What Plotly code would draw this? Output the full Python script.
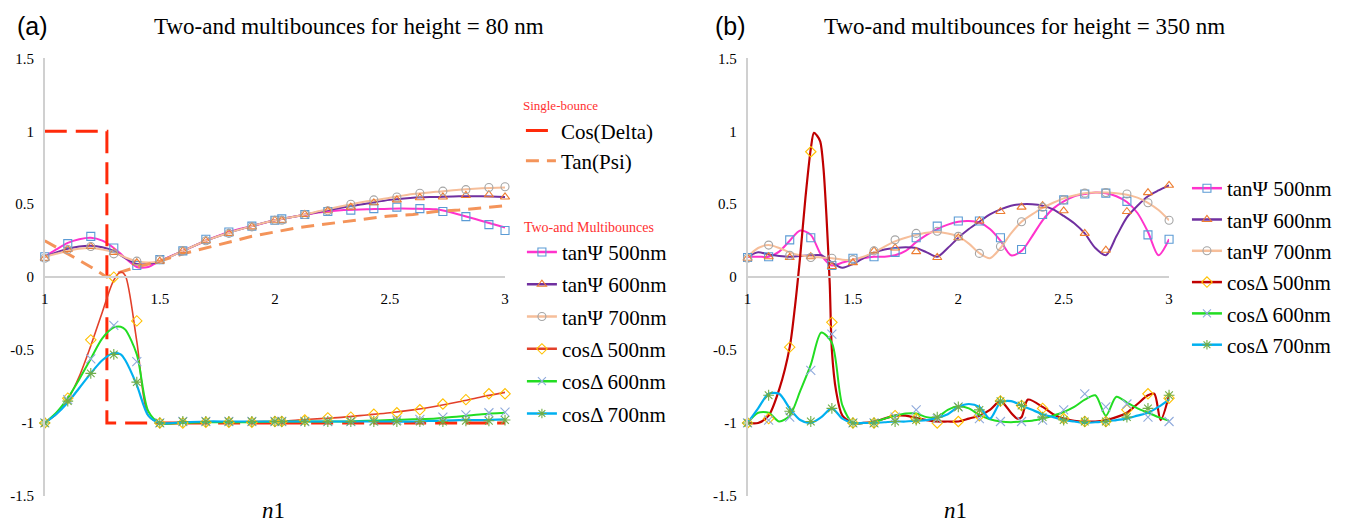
import plotly.graph_objects as go

# ---------------- panel (a): height = 80 nm ----------------
XA_MARK = [1.0, 1.1, 1.2, 1.3, 1.4, 1.5, 1.6, 1.7, 1.8, 1.9, 2.0, 2.03, 2.13, 2.23,
           2.33, 2.43, 2.53, 2.63, 2.73, 2.83, 2.93, 3.0]
TAN500_A_MARK = [0.14, 0.23, 0.28, 0.20, 0.08, 0.12, 0.18, 0.26, 0.31, 0.35, 0.39, 0.40,
                 0.43, 0.45, 0.46, 0.47, 0.48, 0.47, 0.45, 0.415, 0.36, 0.32]
TAN600_A_MARK = [0.13, 0.19, 0.21, 0.17, 0.10, 0.11, 0.18, 0.25, 0.30, 0.345, 0.39, 0.39,
                 0.43, 0.455, 0.48, 0.51, 0.53, 0.545, 0.55, 0.56, 0.565, 0.55]
TAN700_A_MARK = [0.13, 0.19, 0.21, 0.16, 0.11, 0.12, 0.18, 0.25, 0.30, 0.345, 0.39, 0.39,
                 0.43, 0.455, 0.50, 0.53, 0.55, 0.575, 0.59, 0.60, 0.615, 0.62]
COS500_A_MARK = [-1.0, -0.83, -0.43, 0.0, -0.30, -1.0, -1.0, -0.995, -0.995, -0.995, -0.99,
                 -0.99, -0.98, -0.965, -0.96, -0.94, -0.93, -0.91, -0.87, -0.84, -0.80, -0.80]
COS600_A_MARK = [-1.0, -0.84, -0.56, -0.33, -0.58, -1.0, -0.99, -0.99, -0.99, -0.99, -0.99,
                 -0.99, -0.99, -0.99, -0.99, -0.985, -0.98, -0.975, -0.96, -0.945, -0.93, -0.925]
COS700_A_MARK = [-1.0, -0.85, -0.66, -0.53, -0.72, -1.0, -0.99, -0.99, -0.99, -0.99, -0.99,
                 -0.99, -0.99, -0.99, -0.99, -0.99, -0.99, -0.99, -0.99, -0.985, -0.985, -0.98]

XA_LINE = [1.0, 1.05, 1.1, 1.15, 1.2, 1.25, 1.3, 1.33, 1.35, 1.4, 1.45, 1.5, 1.6, 1.7, 1.8,
           1.9, 2.0, 2.1, 2.2, 2.3, 2.4, 2.5, 2.6, 2.7, 2.8, 2.9, 3.0]
TAN500_A_LINE = [0.14, 0.19, 0.235, 0.26, 0.27, 0.25, 0.20, 0.16, 0.13, 0.07, 0.07, 0.11, 0.18,
                 0.25, 0.31, 0.35, 0.39, 0.42, 0.445, 0.46, 0.465, 0.47, 0.47, 0.465, 0.43,
                 0.385, 0.34]
TAN600_A_LINE = [0.14, 0.17, 0.195, 0.21, 0.215, 0.205, 0.18, 0.15, 0.13, 0.09, 0.09, 0.11,
                 0.18, 0.25, 0.305, 0.35, 0.39, 0.42, 0.45, 0.48, 0.505, 0.53, 0.545, 0.55,
                 0.555, 0.555, 0.55]
TAN700_A_LINE = [0.14, 0.16, 0.18, 0.195, 0.20, 0.19, 0.17, 0.15, 0.135, 0.11, 0.10, 0.11,
                 0.18, 0.25, 0.305, 0.35, 0.39, 0.42, 0.455, 0.49, 0.52, 0.545, 0.57, 0.585,
                 0.60, 0.61, 0.615]
COS500_A_LINE = [-1.0, -0.94, -0.84, -0.68, -0.47, -0.24, -0.02, 0.035, 0.01, -0.44, -0.95,
                 -1.0, -1.0, -0.995, -0.995, -0.99, -0.99, -0.98, -0.97, -0.96, -0.945, -0.93,
                 -0.91, -0.885, -0.855, -0.82, -0.79]
COS600_A_LINE = [-1.0, -0.93, -0.83, -0.70, -0.56, -0.42, -0.345, -0.34, -0.36, -0.53, -0.92,
                 -1.0, -1.0, -0.995, -0.995, -0.995, -0.99, -0.99, -0.99, -0.99, -0.985, -0.98,
                 -0.975, -0.97, -0.955, -0.94, -0.93]
COS700_A_LINE = [-1.0, -0.94, -0.86, -0.76, -0.66, -0.57, -0.52, -0.53, -0.57, -0.74, -0.95,
                 -1.0, -0.995, -0.99, -0.99, -0.99, -0.99, -0.99, -0.99, -0.99, -0.99, -0.99,
                 -0.99, -0.985, -0.98, -0.98, -0.975]

# single-bounce reference curves
XA_COSD = [1.0, 1.27, 1.27, 3.0]
COSD_A = [1.0, 1.0, -1.0, -1.0]
XA_TANP = [1.0, 1.1, 1.2, 1.27, 1.3, 1.4, 1.5, 1.6, 1.7, 1.8, 1.9, 2.0, 2.1, 2.2, 2.3, 2.4,
           2.5, 2.6, 2.7, 2.8, 2.9, 3.0]
TANP_A = [0.25, 0.16, 0.07, 0.0, 0.02, 0.07, 0.11, 0.16, 0.20, 0.24, 0.28, 0.31, 0.34, 0.36,
          0.38, 0.40, 0.42, 0.43, 0.45, 0.46, 0.475, 0.49]

# ---------------- panel (b): height = 350 nm ----------------
XB_MARK = [1.0, 1.1, 1.2, 1.3, 1.4, 1.5, 1.6, 1.7, 1.8, 1.9, 2.0, 2.1, 2.2, 2.3, 2.4, 2.5,
           2.6, 2.7, 2.8, 2.9, 3.0]
TAN500_B_MARK = [0.135, 0.14, 0.256, 0.27, 0.08, 0.13, 0.14, 0.17, 0.27, 0.35, 0.385, 0.385,
                 0.27, 0.19, 0.43, 0.53, 0.57, 0.576, 0.52, 0.29, 0.26]
TAN600_B_MARK = [0.13, 0.14, 0.135, 0.14, 0.073, 0.10, 0.18, 0.20, 0.175, 0.135, 0.27, 0.385,
                 0.45, 0.48, 0.49, 0.455, 0.30, 0.185, 0.45, 0.58, 0.63]
TAN700_B_MARK = [0.13, 0.22, 0.15, 0.135, 0.13, 0.12, 0.18, 0.256, 0.30, 0.315, 0.28, 0.163,
                 0.21, 0.38, 0.48, 0.53, 0.576, 0.58, 0.57, 0.51, 0.39]
COS500_B_MARK = [-1.0, -0.97, -0.48, 0.86, -0.31, -1.0, -1.0, -0.95, -0.97, -1.0, -0.99, -0.95,
                 -0.85, -0.88, -0.90, -0.97, -0.99, -0.99, -0.91, -0.80, -0.83]
COS600_B_MARK = [-1.0, -0.98, -0.96, -0.64, -0.39, -1.0, -1.0, -0.96, -0.91, -0.97, -0.89,
                 -0.97, -0.99, -0.99, -0.98, -0.91, -0.80, -0.89, -0.87, -0.96, -0.99]
COS700_B_MARK = [-1.0, -0.81, -0.92, -0.99, -0.90, -1.0, -1.0, -0.99, -0.98, -0.96, -0.89,
                 -0.91, -0.85, -0.88, -0.96, -0.98, -0.99, -0.99, -0.96, -0.90, -0.81]

XB_LINE = [1.0, 1.05, 1.1, 1.15, 1.2, 1.25, 1.3, 1.35, 1.4, 1.45, 1.5, 1.55, 1.6, 1.65, 1.7,
           1.75, 1.8, 1.85, 1.9, 1.95, 2.0, 2.05, 2.1, 2.15, 2.2, 2.25, 2.3, 2.35, 2.4, 2.45,
           2.5, 2.55, 2.6, 2.65, 2.7, 2.75, 2.8, 2.85, 2.9, 2.95, 3.0]
TAN500_B_LINE = [0.14, 0.14, 0.14, 0.175, 0.25, 0.32, 0.29, 0.15, 0.08, 0.10, 0.12, 0.13,
                 0.14, 0.14, 0.15, 0.18, 0.24, 0.29, 0.33, 0.36, 0.38, 0.385, 0.375, 0.33,
                 0.25, 0.15, 0.18, 0.28, 0.39, 0.47, 0.52, 0.555, 0.57, 0.58, 0.575, 0.555,
                 0.515, 0.44, 0.31, 0.15, 0.26]
TAN600_B_LINE = [0.14, 0.17, 0.155, 0.145, 0.14, 0.145, 0.15, 0.15, 0.10, 0.065, 0.09, 0.13,
                 0.17, 0.19, 0.20, 0.205, 0.20, 0.17, 0.14, 0.20, 0.27, 0.33, 0.38, 0.43,
                 0.465, 0.49, 0.50, 0.50, 0.49, 0.465, 0.42, 0.37, 0.30, 0.20, 0.15, 0.28,
                 0.41, 0.49, 0.555, 0.595, 0.63]
TAN700_B_LINE = [0.14, 0.20, 0.22, 0.20, 0.17, 0.15, 0.14, 0.135, 0.13, 0.12, 0.12, 0.14,
                 0.17, 0.21, 0.245, 0.27, 0.29, 0.305, 0.31, 0.30, 0.28, 0.23, 0.165, 0.13,
                 0.20, 0.30, 0.38, 0.43, 0.475, 0.51, 0.54, 0.56, 0.575, 0.58, 0.58, 0.575,
                 0.565, 0.545, 0.51, 0.46, 0.39]
COS600_B_LINE = [-1.0, -0.93, -0.93, -0.99, -0.95, -0.78, -0.60, -0.38, -0.45, -0.88, -1.0,
                 -1.0, -0.995, -0.97, -0.95, -0.935, -0.935, -0.96, -0.96, -0.91, -0.885,
                 -0.90, -0.945, -0.975, -0.99, -0.995, -0.99, -0.985, -0.97, -0.95, -0.925,
                 -0.89, -0.84, -0.81, -0.95, -0.82, -0.86, -0.90, -0.93, -0.96, -0.985]
COS700_B_LINE = [-1.0, -0.90, -0.80, -0.80, -0.90, -0.98, -1.0, -0.96, -0.90, -0.97, -1.0,
                 -1.0, -1.0, -0.995, -0.99, -0.99, -0.985, -0.98, -0.965, -0.94, -0.89, -0.87,
                 -0.89, -0.97, -0.86, -0.85, -0.88, -0.91, -0.94, -0.96, -0.98, -0.99, -1.0,
                 -0.995, -0.99, -0.98, -0.97, -0.95, -0.93, -0.89, -0.84]
XB_RED = [1.0, 1.05, 1.1, 1.15, 1.2, 1.225, 1.25, 1.275, 1.3, 1.315, 1.33, 1.345, 1.36, 1.375,
          1.39, 1.4, 1.42, 1.45, 1.5, 1.55, 1.6, 1.65, 1.7, 1.75, 1.8, 1.85, 1.9, 1.95, 2.0,
          2.05, 2.1, 2.15, 2.2, 2.25, 2.28, 2.3, 2.33, 2.4, 2.45, 2.5, 2.55, 2.6, 2.65, 2.7,
          2.75, 2.8, 2.85, 2.9, 2.93, 2.96, 3.0]
COS500_B_LINE = [-1.0, -1.0, -0.95, -0.77, -0.48, -0.2, 0.15, 0.55, 0.88, 0.99, 0.97, 0.93,
                 0.75, 0.4, -0.05, -0.5, -0.78, -0.95, -1.0, -1.0, -0.99, -0.97, -0.95, -0.95,
                 -0.965, -0.98, -0.99, -0.99, -0.99, -0.97, -0.95, -0.91, -0.85, -0.93, -0.97,
                 -0.96, -0.84, -0.89, -0.94, -0.97, -0.985, -0.99, -0.99, -0.98, -0.96, -0.93,
                 -0.87, -0.81, -0.80, -0.98, -0.81]

# ---------------- styling ----------------
W, H = 1351, 532
SERIF = "Times New Roman, Liberation Serif, DejaVu Serif, serif"
SANS = "Arial, Liberation Sans, sans-serif"
PINK, PURPLE, PEACH = "#FF33CC", "#7030A0", "#F6BE9A"
RED_A, RED_B, GREEN, BLUE = "#E2402A", "#C00000", "#22DD22", "#00B0F0"
M_SQ, M_TRI, M_CIR = "#5B9BD5", "#ED7D31", "#A5A5A5"
M_DIA, M_X, M_AST = "#FFC000", "#8FAADC", "#70AD47"
SB_COS, SB_TAN = "#FF2A0A", "#F4945A"
AXIS_GRAY = "#D0D0D0"

Y_DOM = [1 - 503 / H, 1 - 52 / H]
XA_DOM = [41 / W, 504 / W]
XB_DOM = [748 / W, 1172 / W]
Y_MID = (Y_DOM[0] + Y_DOM[1]) / 2

fig = go.Figure()


def line(x, y, color, width, xa, ya, dash=None, shape="spline", name=None, legend=None):
    fig.add_trace(go.Scatter(
        x=x, y=y, mode="lines", xaxis=xa, yaxis=ya, name=name,
        showlegend=name is not None, legend=legend,
        line=dict(color=color, width=width, dash=dash, shape=shape,
                  smoothing=0.8 if shape == "spline" else None),
        hoverinfo="skip"))


def marks(x, y, symbol, color, xa, ya, size=8):
    fig.add_trace(go.Scatter(
        x=x, y=y, mode="markers", xaxis=xa, yaxis=ya, showlegend=False, cliponaxis=False,
        marker=dict(symbol=symbol, size=size, color=color, line=dict(color=color, width=1.1)),
        hoverinfo="skip"))


def legend_entry(name, lcolor, symbol, mcolor, legend, group):
    fig.add_trace(go.Scatter(
        x=[None], y=[None], mode="lines+markers", name=name, legend=legend,
        legendgroup=group, line=dict(color=lcolor, width=2.5),
        marker=dict(symbol=symbol, size=8, color=mcolor, line=dict(color=mcolor, width=1.1))))


# panel (a) curves
line(XA_LINE, TAN500_A_LINE, PINK, 2, "x", "y")
line(XA_LINE, TAN600_A_LINE, PURPLE, 2, "x", "y")
line(XA_LINE, TAN700_A_LINE, PEACH, 2, "x", "y")
line(XA_COSD, COSD_A, SB_COS, 3, "x", "y", dash="22px,9px", shape="linear",
     name="Cos(Delta)", legend="legend")
line(XA_TANP, TANP_A, SB_TAN, 3, "x", "y", dash="13px,8px", shape="linear",
     name="Tan(Psi)", legend="legend")
line(XA_LINE, COS500_A_LINE, RED_A, 1.6, "x", "y")
line(XA_LINE, COS600_A_LINE, GREEN, 2, "x", "y")
line(XA_LINE, COS700_A_LINE, BLUE, 2.2, "x", "y")
marks(XA_MARK, TAN500_A_MARK, "square-open", M_SQ, "x", "y")
marks(XA_MARK, TAN600_A_MARK, "triangle-up-open", M_TRI, "x", "y")
marks(XA_MARK, TAN700_A_MARK, "circle-open", M_CIR, "x", "y")
marks(XA_MARK, COS500_A_MARK, "diamond-open", M_DIA, "x", "y")
marks(XA_MARK, COS600_A_MARK, "x-thin-open", M_X, "x", "y", size=9)
marks(XA_MARK, COS700_A_MARK, "asterisk-open", M_AST, "x", "y", size=9)

# panel (b) curves
line(XB_LINE, TAN500_B_LINE, PINK, 2, "x2", "y2")
line(XB_LINE, TAN600_B_LINE, PURPLE, 2, "x2", "y2")
line(XB_LINE, TAN700_B_LINE, PEACH, 2, "x2", "y2")
line(XB_RED, COS500_B_LINE, RED_B, 2.2, "x2", "y2")
line(XB_LINE, COS600_B_LINE, GREEN, 2, "x2", "y2")
line(XB_LINE, COS700_B_LINE, BLUE, 2.2, "x2", "y2")
marks(XB_MARK, TAN500_B_MARK, "square-open", M_SQ, "x2", "y2")
marks(XB_MARK, TAN600_B_MARK, "triangle-up-open", M_TRI, "x2", "y2")
marks(XB_MARK, TAN700_B_MARK, "circle-open", M_CIR, "x2", "y2")
marks(XB_MARK, COS500_B_MARK, "diamond-open", M_DIA, "x2", "y2")
marks(XB_MARK, COS600_B_MARK, "x-thin-open", M_X, "x2", "y2", size=9)
marks(XB_MARK, COS700_B_MARK, "asterisk-open", M_AST, "x2", "y2", size=9)

# legend entries for the multi-bounce series
SERIES = [
    ("tanΨ 500nm", PINK, "square-open", M_SQ),
    ("tanΨ 600nm", PURPLE, "triangle-up-open", M_TRI),
    ("tanΨ 700nm", PEACH, "circle-open", M_CIR),
    ("cosΔ 500nm", RED_A, "diamond-open", M_DIA),
    ("cosΔ 600nm", GREEN, "x-thin-open", M_X),
    ("cosΔ 700nm", BLUE, "asterisk-open", M_AST),
]
for i, (nm, lc, sym, mc) in enumerate(SERIES):
    legend_entry(nm, lc, sym, mc, "legend2", f"a{i}")
for i, (nm, lc, sym, mc) in enumerate(SERIES):
    legend_entry(nm, RED_B if i == 3 else lc, sym, mc, "legend3", f"b{i}")

tick_font = dict(family=SERIF, size=15, color="#000000")
YTICKS = [-1.5, -1, -0.5, 0, 0.5, 1, 1.5]
YTEXT = ["-1.5", "-1", "-0.5", "0", "0.5", "1", "1.5"]
XTICKS = [1, 1.5, 2, 2.5, 3]
XTEXT = ["1", "1.5", "2", "2.5", "3"]


def xaxis(dom):
    return dict(domain=dom, range=[1, 3], anchor="free", position=Y_MID, showgrid=False,
                zeroline=False, showline=True, linecolor=AXIS_GRAY, linewidth=1.5,
                ticks="outside", ticklen=8, tickcolor="rgba(0,0,0,0)", tickvals=XTICKS,
                ticktext=XTEXT, tickfont=tick_font)


def yaxis(anchor):
    return dict(domain=Y_DOM, range=[-1.5, 1.5], anchor=anchor, showgrid=False,
                zeroline=False, showline=True, linecolor=AXIS_GRAY, linewidth=1.5,
                ticks="outside", ticklen=6, tickcolor="rgba(0,0,0,0)", tickvals=YTICKS,
                ticktext=YTEXT, tickfont=tick_font)


leg_font = dict(family=SERIF, size=21, color="#000000")
fig.update_layout(
    width=W, height=H, margin=dict(l=0, r=0, t=0, b=0),
    paper_bgcolor="white", plot_bgcolor="white",
    font=dict(family=SERIF),
    xaxis=xaxis(XA_DOM), yaxis=yaxis("x"),
    xaxis2=xaxis(XB_DOM), yaxis2=yaxis("x2"),
    legend=dict(x=520 / W, y=1 - 88 / H, xanchor="left", yanchor="top",
                bgcolor="rgba(0,0,0,0)", font=leg_font, tracegroupgap=2,
                title=dict(text="Single-bounce", font=dict(family=SERIF, size=13, color="#FF3030"))),
    legend2=dict(x=521 / W, y=1 - 212 / H, xanchor="left", yanchor="top",
                 bgcolor="rgba(0,0,0,0)", font=leg_font, tracegroupgap=2,
                 title=dict(text="Two-and Multibounces",
                            font=dict(family=SERIF, size=14, color="#FF3030"))),
    legend3=dict(x=1190 / W, y=1 - 165 / H, xanchor="left", yanchor="top",
                 bgcolor="rgba(0,0,0,0)", font=leg_font, tracegroupgap=1),
    showlegend=True,
)

ann = [
    dict(text="(a)", x=29 / W, y=1 - 19 / H, font=dict(family=SANS, size=25)),
    dict(text="(b)", x=731 / W, y=1 - 19 / H, font=dict(family=SANS, size=25)),
    dict(text="Two-and multibounces for height = 80 nm", x=347 / W, y=1 - 19 / H,
         font=dict(family=SERIF, size=23)),
    dict(text="Two-and multibounces for height = 350 nm", x=1027 / W, y=1 - 19 / H,
         font=dict(family=SERIF, size=23)),
    dict(text="<i>n</i>1", x=271 / W, y=1 - 518 / H, font=dict(family=SERIF, size=23)),
    dict(text="<i>n</i>1", x=957 / W, y=1 - 518 / H, font=dict(family=SERIF, size=23)),
]
for a in ann:
    a["font"]["color"] = "#000000"
    fig.add_annotation(xref="paper", yref="paper", showarrow=False, xanchor="center",
                       yanchor="middle", **a)

fig.write_html("out.html")
